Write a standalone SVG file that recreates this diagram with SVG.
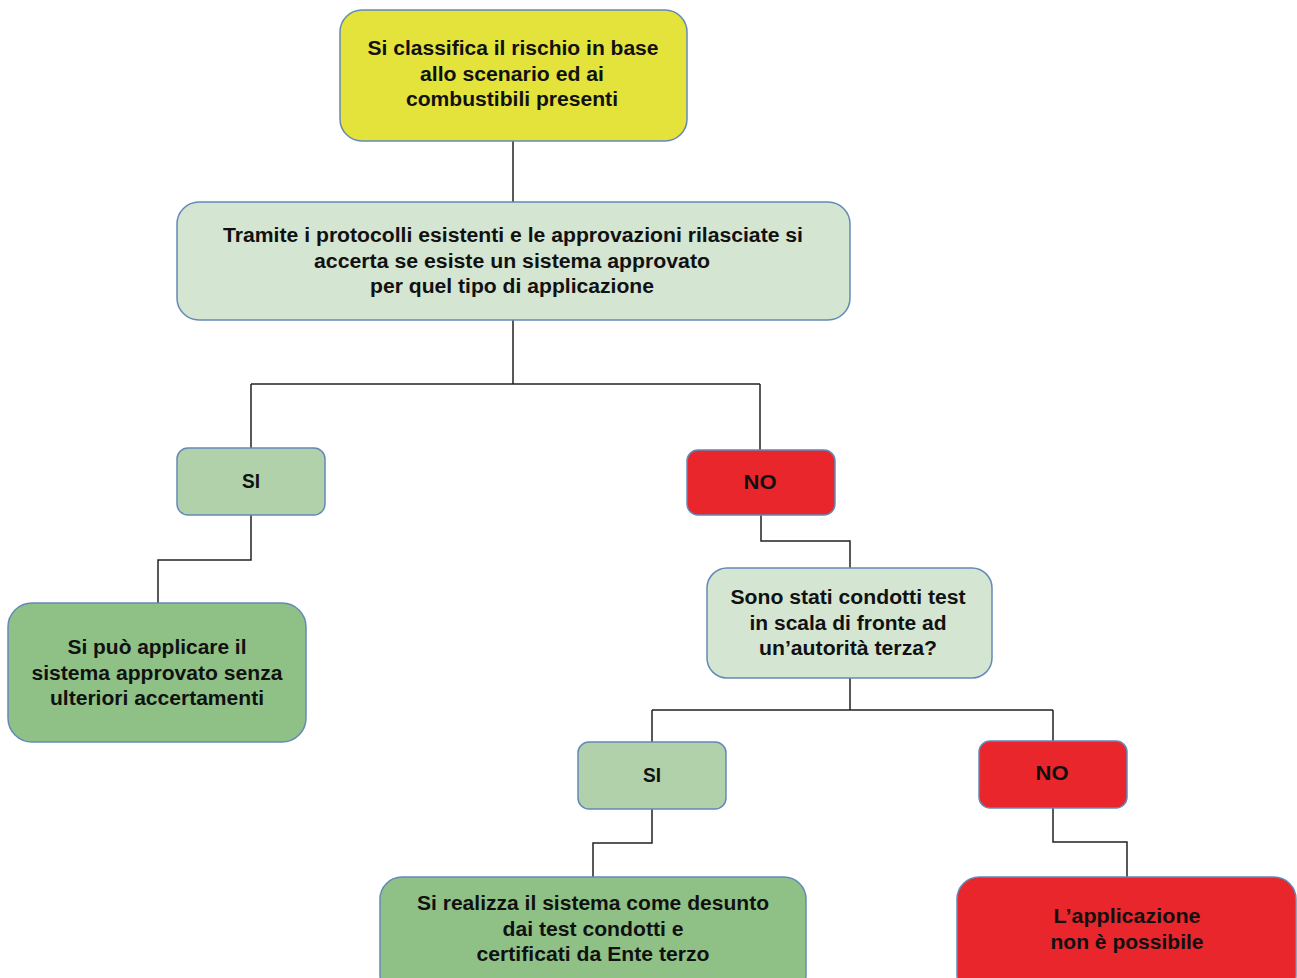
<svg xmlns="http://www.w3.org/2000/svg" width="1297" height="978" viewBox="0 0 1297 978">
<style>
.b{stroke:#6489b8;stroke-width:1.5}
.y{fill:#e3e33c}.lg{fill:#d4e5d1}.g{fill:#b1d1ab}.dg{fill:#8fc186}.r{fill:#e8262c}
.t{font-family:"Liberation Sans",Arial,sans-serif;font-weight:bold;font-size:20px;fill:#111;text-anchor:middle}
.c{fill:none;stroke:#222;stroke-width:1.5}
</style>
<rect width="1297" height="978" fill="#fff"/>
<g id="connectors">
<path class="c" d="M513 141V202"/>
<path class="c" d="M513 320V384M251 384H760M251 384V448M760 384V450"/>
<path class="c" d="M251 515V560H158V603"/>
<path class="c" d="M761 515V541H850V568"/>
<path class="c" d="M850 678V710M652 710H1053M652 710V742M1053 710V741"/>
<path class="c" d="M652 809V843H593V877"/>
<path class="c" d="M1053 808V842H1127V877"/>
</g>
<g id="n1">
<rect class="b y" x="340" y="10" width="347" height="131" rx="22"/>
<text class="t" x="513" y="55" textLength="291" lengthAdjust="spacingAndGlyphs">Si classifica il rischio in base</text>
<text class="t" x="512" y="81" textLength="184" lengthAdjust="spacingAndGlyphs">allo scenario ed ai</text>
<text class="t" x="512" y="106" textLength="212" lengthAdjust="spacingAndGlyphs">combustibili presenti</text>
</g>
<g id="n2">
<rect class="b lg" x="177" y="202" width="673" height="118" rx="22"/>
<text class="t" x="513" y="242" textLength="580" lengthAdjust="spacingAndGlyphs">Tramite i protocolli esistenti e le approvazioni rilasciate si</text>
<text class="t" x="512" y="268" textLength="396" lengthAdjust="spacingAndGlyphs">accerta se esiste un sistema approvato</text>
<text class="t" x="512" y="293" textLength="284" lengthAdjust="spacingAndGlyphs">per quel tipo di applicazione</text>
</g>
<g id="si1">
<rect class="b g" x="177" y="448" width="148" height="67" rx="11"/>
<text class="t" x="251" y="488" textLength="18" lengthAdjust="spacingAndGlyphs">SI</text>
</g>
<g id="no1">
<rect class="b r" x="687" y="450" width="148" height="65" rx="11"/>
<text class="t" x="760" y="489" textLength="33" lengthAdjust="spacingAndGlyphs">NO</text>
</g>
<g id="res1">
<rect class="b dg" x="8" y="603" width="298" height="139" rx="24"/>
<text class="t" x="157" y="654" textLength="179" lengthAdjust="spacingAndGlyphs">Si può applicare il</text>
<text class="t" x="157" y="680" textLength="251" lengthAdjust="spacingAndGlyphs">sistema approvato senza</text>
<text class="t" x="157" y="705" textLength="214" lengthAdjust="spacingAndGlyphs">ulteriori accertamenti</text>
</g>
<g id="q2">
<rect class="b lg" x="707" y="568" width="285" height="110" rx="20"/>
<text class="t" x="848" y="604" textLength="235" lengthAdjust="spacingAndGlyphs">Sono stati condotti test</text>
<text class="t" x="848" y="630" textLength="197" lengthAdjust="spacingAndGlyphs">in scala di fronte ad</text>
<text class="t" x="848" y="655" textLength="178" lengthAdjust="spacingAndGlyphs">un’autorità terza?</text>
</g>
<g id="si2">
<rect class="b g" x="578" y="742" width="148" height="67" rx="11"/>
<text class="t" x="652" y="782" textLength="18" lengthAdjust="spacingAndGlyphs">SI</text>
</g>
<g id="no2">
<rect class="b r" x="979" y="741" width="148" height="67" rx="11"/>
<text class="t" x="1052" y="780" textLength="33" lengthAdjust="spacingAndGlyphs">NO</text>
</g>
<g id="res2">
<rect class="b dg" x="380" y="877" width="426" height="120" rx="22"/>
<text class="t" x="593" y="910" textLength="352" lengthAdjust="spacingAndGlyphs">Si realizza il sistema come desunto</text>
<text class="t" x="593" y="936" textLength="181" lengthAdjust="spacingAndGlyphs">dai test condotti e</text>
<text class="t" x="593" y="961" textLength="233" lengthAdjust="spacingAndGlyphs">certificati da Ente terzo</text>
</g>
<g id="res3">
<rect class="b r" x="957" y="877" width="339" height="120" rx="22"/>
<text class="t" x="1127" y="923" textLength="147" lengthAdjust="spacingAndGlyphs">L’applicazione</text>
<text class="t" x="1127" y="949" textLength="153" lengthAdjust="spacingAndGlyphs">non è possibile</text>
</g>
</svg>
